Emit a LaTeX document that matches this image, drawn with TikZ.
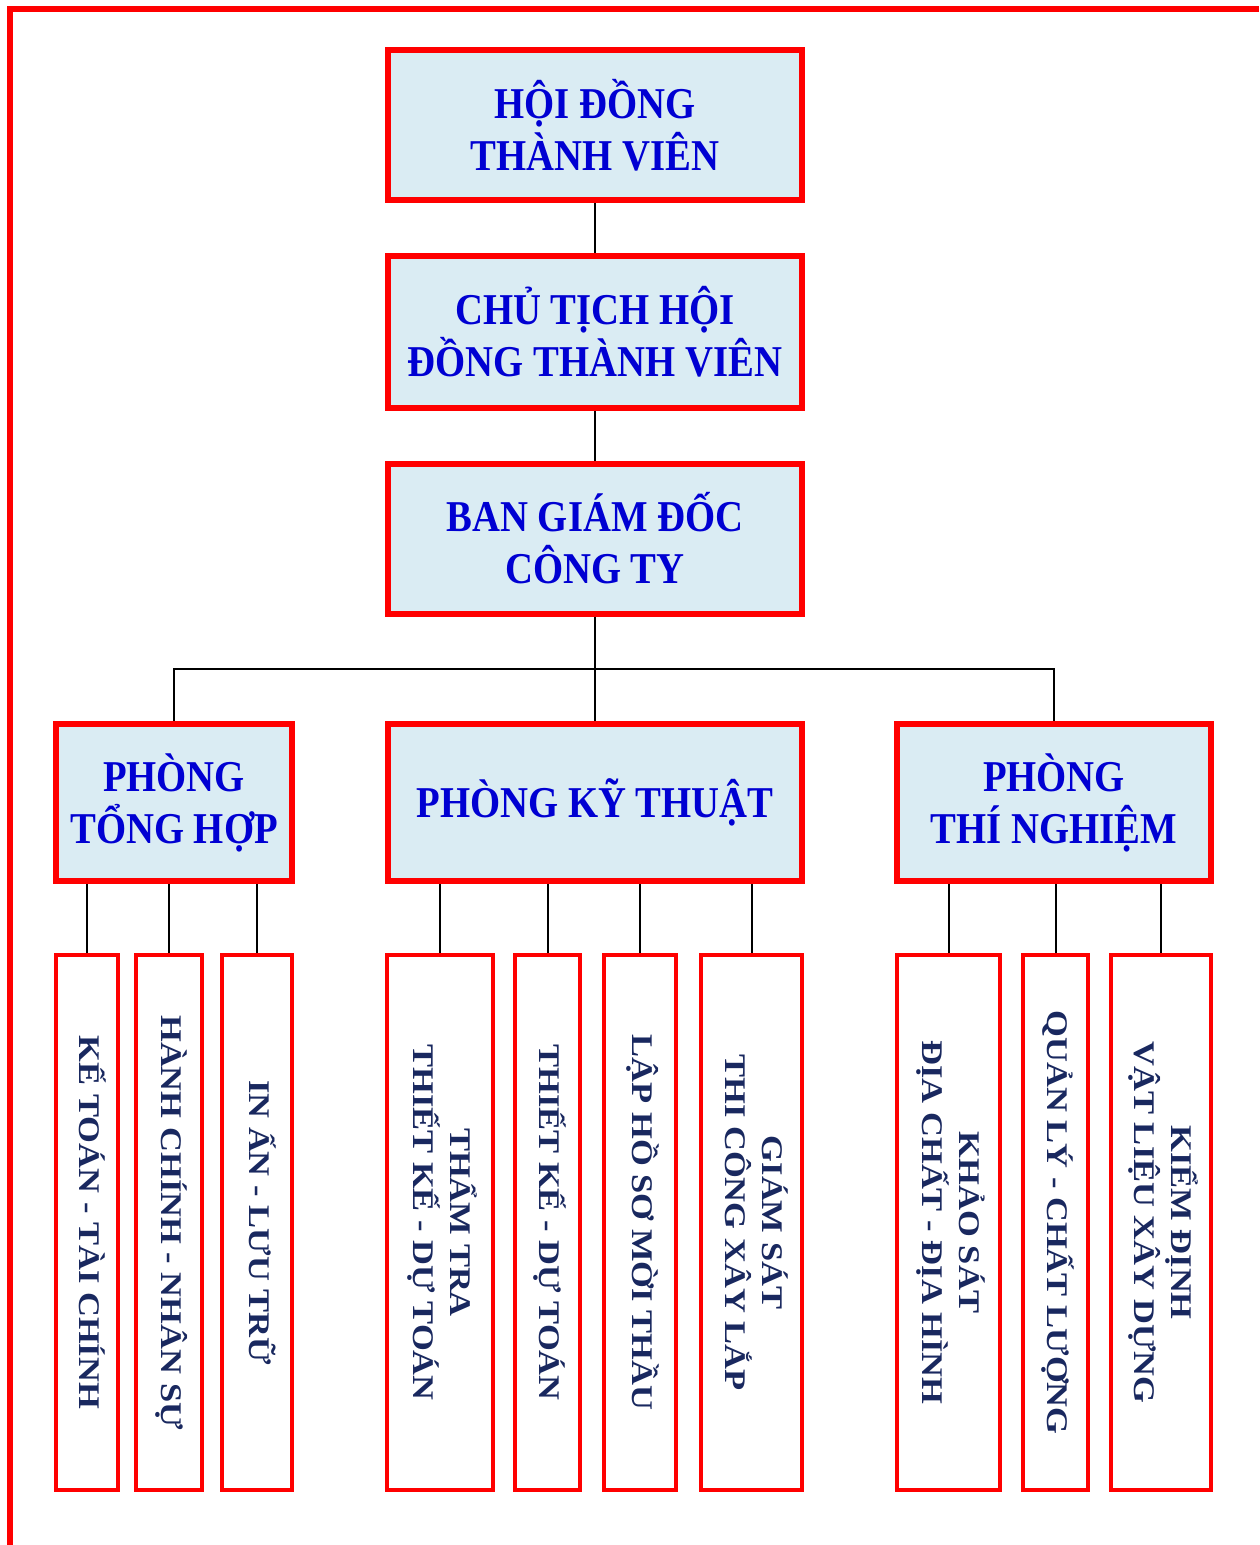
\documentclass[tikz,border=0pt]{standalone}
\usepackage{fontspec}
\usepackage{graphicx}
\newfontfamily\hfont{Liberation Serif}[FakeStretch=0.88]
\newfontfamily\vfont{Liberation Serif}[FakeStretch=1.15]
\definecolor{boxred}{RGB}{255,0,0}
\definecolor{boxfill}{RGB}{218,236,243}
\definecolor{headblue}{RGB}{0,0,210}
\definecolor{leafnavy}{RGB}{25,40,95}
\newcommand{\vlab}[1]{\rotatebox{-90}{\begin{tabular}{@{}c@{}}#1\end{tabular}}}

\begin{document}
\begin{tikzpicture}[x=0.5pt,y=-0.5pt,
  head/.style={draw=boxred,line width=3pt,fill=boxfill,text=headblue,align=center,
    inner sep=0pt,minimum width=207pt,minimum height=75pt,
    font=\hfont\bfseries\fontsize{22}{26}\selectfont},
  leaf/.style={draw=boxred,line width=2pt,fill=white,text=leafnavy,inner sep=0pt,
    minimum height=267.5pt,font=\vfont\bfseries\fontsize{15}{18}\selectfont},
  link/.style={black,line width=1pt}]
\useasboundingbox (0,0) rectangle (1259,1545);
\draw [boxred,line width=3pt] (9.5,1545) |- (1259,9);

\node [head] (hd) at (595,125.5) {HỘI ĐỒNG\\THÀNH VIÊN};
\node [head,minimum height=76pt] (ct) at (595,332) {CHỦ TỊCH HỘI\\ĐỒNG THÀNH VIÊN};
\node [head] (bgd) at (595,538.5) {BAN GIÁM ĐỐC\\CÔNG TY};

\node [head,minimum width=118pt,minimum height=78.5pt] (tong) at (174,802.5) {PHÒNG\\TỔNG HỢP};
\node [head,minimum height=78.5pt] (ky) at (595,802.5) {PHÒNG KỸ THUẬT};
\node [head,minimum width=157pt,minimum height=78.5pt] (tn) at (1054,802.5) {PHÒNG\\THÍ NGHIỆM};

\node [leaf,minimum width=31pt] (ke) at (87,1222.5) {\vlab{KẾ TOÁN - TÀI CHÍNH}};
\node [leaf,minimum width=33pt] (hc) at (169,1222.5) {\vlab{HÀNH CHÍNH - NHÂN SỰ}};
\node [leaf,minimum width=35pt] (inan) at (257,1222.5) {\vlab{IN ẤN - LƯU TRỮ}};

\node [leaf,minimum width=53pt] (tt) at (440,1222.5) {\vlab{THẨM TRA\\THIẾT KẾ - DỰ TOÁN}};
\node [leaf,minimum width=32.5pt] (tk) at (547.5,1222.5) {\vlab{THIẾT KẾ - DỰ TOÁN}};
\node [leaf,minimum width=36pt] (lap) at (640,1222.5) {\vlab{LẬP HỒ SƠ MỜI THẦU}};
\node [leaf,minimum width=50.5pt] (gs) at (751.5,1222.5) {\vlab{GIÁM SÁT\\THI CÔNG XÂY LẮP}};

\node [leaf,minimum width=51.5pt] (ks) at (948.5,1222.5) {\vlab{KHẢO SÁT\\ĐỊA CHẤT - ĐỊA HÌNH}};
\node [leaf,minimum width=32.5pt] (ql) at (1055.5,1222.5) {\vlab{QUẢN LÝ - CHẤT LƯỢNG}};
\node [leaf,minimum width=50pt] (kd) at (1161,1222.5) {\vlab{KIỂM ĐỊNH\\VẬT LIỆU XÂY DỰNG}};

\coordinate (bus) at (595,669);
\draw [link] (hd.south) -- (ct.north);
\draw [link] (ct.south) -- (bgd.north);
\draw [link] (bgd.south) -- (ky.north);
\draw [link] (tong.north) |- (bus) -| (tn.north);

\foreach \c in {ke,hc,inan}
  \draw [link] (\c.north) -- (\c.north |- tong.south);
\foreach \c in {tt,tk,lap,gs}
  \draw [link] (\c.north) -- (\c.north |- ky.south);
\foreach \c in {ks,ql,kd}
  \draw [link] (\c.north) -- (\c.north |- tn.south);
\end{tikzpicture}
\end{document}
